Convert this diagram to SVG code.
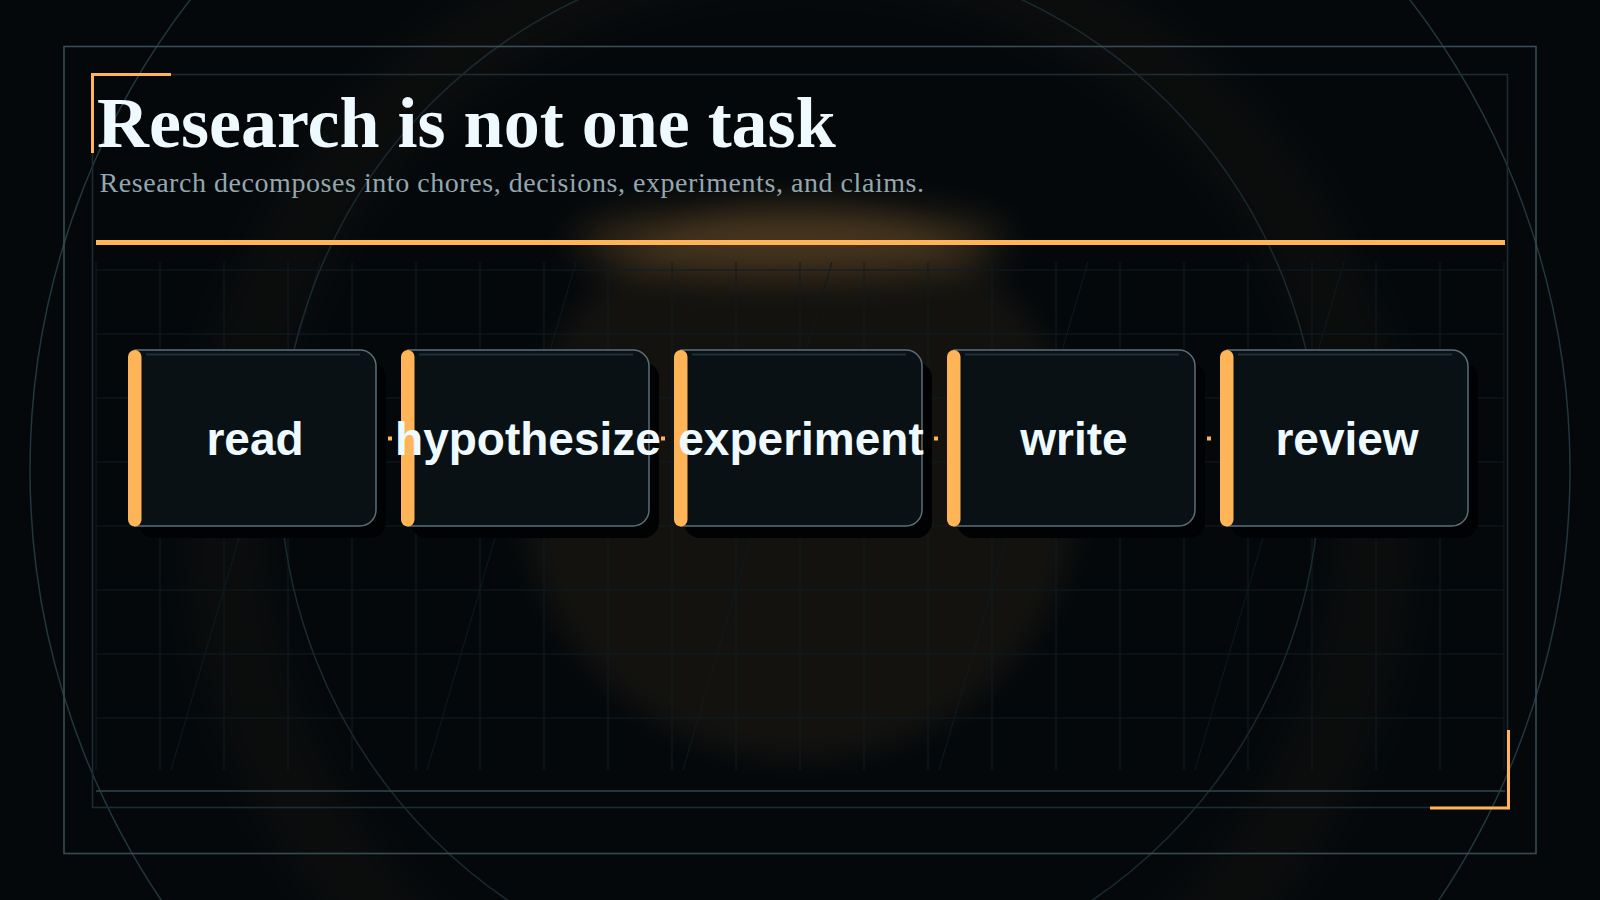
<svg xmlns="http://www.w3.org/2000/svg" width="1600" height="900" viewBox="0 0 1600 900">
<defs>
<filter id="blur15" x="-50%" y="-50%" width="200%" height="200%"><feGaussianBlur stdDeviation="15"/></filter>
<filter id="blur20" x="-50%" y="-100%" width="200%" height="300%"><feGaussianBlur stdDeviation="20"/></filter>
<filter id="blur28" x="-20%" y="-20%" width="140%" height="140%"><feGaussianBlur stdDeviation="28"/></filter>
<style>
.grid line{stroke:#0f1d25;stroke-width:1}
.diag line{stroke:#0e1a21;stroke-width:1}
.frame{fill:none}
.shadow{fill:#010203}
.box{fill:#0a1114;stroke:#5a6f79;stroke-width:1.5}
.hl{stroke:#1f3038;stroke-width:2}
.bar{fill:#ffb457}
.label{font-family:"Liberation Sans",Arial,sans-serif;font-weight:700;font-size:46px;fill:#eefaff;text-anchor:middle}
.conn line{stroke:#ffb457;stroke-width:4;stroke-dasharray:4 8;fill:none}
</style>
</defs>
<rect x="0" y="0" width="1600" height="900" fill="#04080b"/>
<g id="glows">
<circle cx="800" cy="520" r="575" fill="none" stroke="#ffb457" stroke-width="70" opacity="0.035" filter="url(#blur28)"/>
<circle cx="800" cy="480" r="280" fill="#ffb457" opacity="0.06" filter="url(#blur15)"/>
<ellipse cx="790" cy="242" rx="215" ry="30" fill="#ffb457" opacity="0.24" filter="url(#blur20)"/>
</g>
<g id="grid" class="grid">
<line x1="96" y1="262" x2="96" y2="770"/><line x1="160" y1="262" x2="160" y2="770"/><line x1="224" y1="262" x2="224" y2="770"/><line x1="288" y1="262" x2="288" y2="770"/><line x1="352" y1="262" x2="352" y2="770"/><line x1="416" y1="262" x2="416" y2="770"/><line x1="480" y1="262" x2="480" y2="770"/><line x1="544" y1="262" x2="544" y2="770"/><line x1="608" y1="262" x2="608" y2="770"/><line x1="672" y1="262" x2="672" y2="770"/><line x1="736" y1="262" x2="736" y2="770"/><line x1="800" y1="262" x2="800" y2="770"/><line x1="864" y1="262" x2="864" y2="770"/><line x1="928" y1="262" x2="928" y2="770"/><line x1="992" y1="262" x2="992" y2="770"/><line x1="1056" y1="262" x2="1056" y2="770"/><line x1="1120" y1="262" x2="1120" y2="770"/><line x1="1184" y1="262" x2="1184" y2="770"/><line x1="1248" y1="262" x2="1248" y2="770"/><line x1="1312" y1="262" x2="1312" y2="770"/><line x1="1376" y1="262" x2="1376" y2="770"/><line x1="1440" y1="262" x2="1440" y2="770"/><line x1="1504" y1="262" x2="1504" y2="770"/>
<line x1="96" y1="270" x2="1504" y2="270"/><line x1="96" y1="334" x2="1504" y2="334"/><line x1="96" y1="398" x2="1504" y2="398"/><line x1="96" y1="462" x2="1504" y2="462"/><line x1="96" y1="526" x2="1504" y2="526"/><line x1="96" y1="590" x2="1504" y2="590"/><line x1="96" y1="654" x2="1504" y2="654"/><line x1="96" y1="718" x2="1504" y2="718"/>
</g>
<g id="diagonals" class="diag">
<line x1="320" y1="262" x2="171" y2="770"/><line x1="576" y1="262" x2="427" y2="770"/><line x1="832" y1="262" x2="683" y2="770"/><line x1="1088" y1="262" x2="939" y2="770"/><line x1="1344" y1="262" x2="1195" y2="770"/>
</g>
<g id="circles" fill="none" stroke-width="1.5">
<circle cx="800" cy="470" r="770" stroke="#22363e"/>
<circle cx="800" cy="470" r="520" stroke="#1a2a32"/>
</g>
<g id="frames" class="frame">
<rect x="64" y="46.5" width="1472" height="807" fill="none" stroke="#384c54" stroke-width="1.6"/>
<rect x="92.5" y="74.5" width="1415" height="733" fill="none" stroke="#1d2c33" stroke-width="1.6"/>
<line x1="96" y1="791" x2="1505" y2="791" stroke="#32464e" stroke-width="1.6"/>
<path d="M92.5,153 V74.5 H171" fill="none" stroke="#ffb457" stroke-width="3"/>
<path d="M1430,808 H1508.5 V730" fill="none" stroke="#ffb457" stroke-width="3"/>
</g>
<g id="header">
<text x="97" y="147" font-family="'Liberation Serif','Times New Roman',serif" font-weight="700" font-size="72" fill="#eefaff">Research is not one task</text>
<text x="99.5" y="192" font-family="'Liberation Serif','Times New Roman',serif" font-size="28" letter-spacing="0.55" fill="#93a7af">Research decomposes into chores, decisions, experiments, and claims.</text>
<rect x="96" y="240" width="1409" height="5" fill="#ffb457"/>
</g>
<g id="connectors" class="conn">
<line x1="376" y1="438.5" x2="400" y2="438.5"/>
<line x1="649" y1="438.5" x2="673" y2="438.5"/>
<line x1="922" y1="438.5" x2="946" y2="438.5"/>
<line x1="1195" y1="438.5" x2="1219" y2="438.5"/>
</g>
<g id="node-read">
<rect class="shadow" x="138" y="362" width="248" height="176" rx="16"/>
<path class="box" d="M135,350 H360 A16,16 0 0 1 376,366 V510 A16,16 0 0 1 360,526 H135 Z"/>
<line class="hl" x1="146" y1="354.5" x2="360" y2="354.5"/>
<rect class="bar" x="128" y="350" width="13.5" height="176.5" rx="6.75"/>
<text class="label" x="255" y="455">read</text>
</g>
<g id="node-hypothesize">
<rect class="shadow" x="411" y="362" width="248" height="176" rx="16"/>
<path class="box" d="M408,350 H633 A16,16 0 0 1 649,366 V510 A16,16 0 0 1 633,526 H408 Z"/>
<line class="hl" x1="419" y1="354.5" x2="633" y2="354.5"/>
<rect class="bar" x="401" y="350" width="13.5" height="176.5" rx="6.75"/>
<text class="label" x="528" y="455">hypothesize</text>
</g>
<g id="node-experiment">
<rect class="shadow" x="684" y="362" width="248" height="176" rx="16"/>
<path class="box" d="M681,350 H906 A16,16 0 0 1 922,366 V510 A16,16 0 0 1 906,526 H681 Z"/>
<line class="hl" x1="692" y1="354.5" x2="906" y2="354.5"/>
<rect class="bar" x="674" y="350" width="13.5" height="176.5" rx="6.75"/>
<text class="label" x="801" y="455">experiment</text>
</g>
<g id="node-write">
<rect class="shadow" x="957" y="362" width="248" height="176" rx="16"/>
<path class="box" d="M954,350 H1179 A16,16 0 0 1 1195,366 V510 A16,16 0 0 1 1179,526 H954 Z"/>
<line class="hl" x1="965" y1="354.5" x2="1179" y2="354.5"/>
<rect class="bar" x="947" y="350" width="13.5" height="176.5" rx="6.75"/>
<text class="label" x="1074" y="455">write</text>
</g>
<g id="node-review">
<rect class="shadow" x="1230" y="362" width="248" height="176" rx="16"/>
<path class="box" d="M1227,350 H1452 A16,16 0 0 1 1468,366 V510 A16,16 0 0 1 1452,526 H1227 Z"/>
<line class="hl" x1="1238" y1="354.5" x2="1452" y2="354.5"/>
<rect class="bar" x="1220" y="350" width="13.5" height="176.5" rx="6.75"/>
<text class="label" x="1347" y="455">review</text>
</g>
</svg>
